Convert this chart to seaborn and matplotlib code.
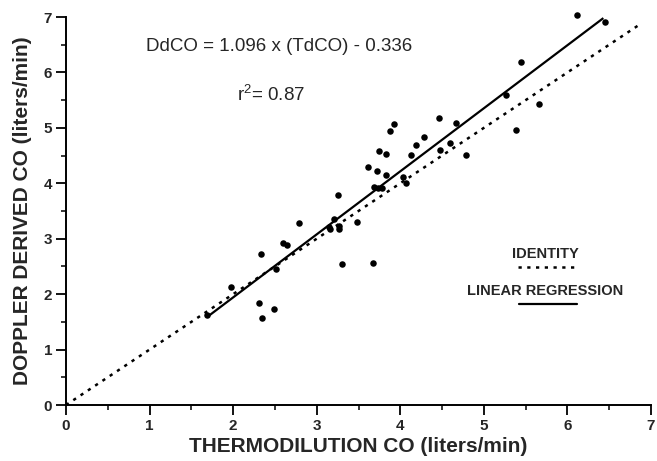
import matplotlib
matplotlib.use("Agg")
import matplotlib.pyplot as plt
import seaborn as sns
import pandas as pd
from matplotlib.ticker import MultipleLocator

# Data
td_co = [1.69, 1.97, 2.31, 2.34, 2.49, 2.33, 2.51, 2.60, 2.64, 2.79,
         3.15, 3.16, 3.27, 3.27, 3.21, 3.25, 3.48, 3.30, 3.67, 3.69,
         3.73, 3.78, 3.61, 3.72, 3.83, 4.03, 4.07, 3.74, 3.83, 4.13,
         3.88, 3.92, 4.28, 4.19, 4.46, 4.67, 4.47, 4.59, 4.79, 5.26,
         5.38, 5.66, 5.45, 6.12, 6.45]
dd_co = [1.62, 2.13, 1.84, 1.57, 1.73, 2.72, 2.45, 2.92, 2.89, 3.28,
         3.21, 3.17, 3.23, 3.17, 3.36, 3.79, 3.30, 2.55, 2.56, 3.94,
         3.92, 3.92, 4.30, 4.22, 4.15, 4.12, 4.01, 4.58, 4.53, 4.51,
         4.95, 5.07, 4.84, 4.69, 5.18, 5.09, 4.60, 4.73, 4.51, 5.60,
         4.96, 5.43, 6.19, 7.04, 6.91]

identity_x = [0.0, 6.85]
identity_y = [0.0, 6.85]
regression_x = [1.70, 6.43]
regression_y = [1.60, 6.98]

x_ticks = [0, 1, 2, 3, 4, 5, 6, 7]
y_ticks = [0, 1, 2, 3, 4, 5, 6, 7]

equation_text = "DdCO = 1.096 x (TdCO) - 0.336"
r2_text = r"r$^{2}$= 0.87"
x_label = "THERMODILUTION CO (liters/min)"
y_label = "DOPPLER DERIVED CO (liters/min)"
legend_identity = "IDENTITY"
legend_regression = "LINEAR REGRESSION"

sns.set_style("ticks")
plt.rcParams['font.family'] = ['Liberation Sans', 'DejaVu Sans']
plt.rcParams['mathtext.fontset'] = 'custom'
plt.rcParams['mathtext.rm'] = 'Liberation Sans'
plt.rcParams['mathtext.it'] = 'Liberation Sans'

df = pd.DataFrame({"td": td_co, "dd": dd_co})

fig = plt.figure(figsize=(6.57, 4.61), dpi=100)
ax = fig.add_axes([66/657, 56/461, 585/657, 388/461])

sns.scatterplot(data=df, x="td", y="dd", ax=ax, color="black", s=22,
                edgecolor="black", linewidth=0, zorder=3, clip_on=False)
ax.plot(identity_x, identity_y, color="black", lw=1.8,
        linestyle=(0, (1.3, 2.2)), clip_on=False, zorder=2)
ax.plot(regression_x, regression_y, color="black", lw=1.6,
        solid_capstyle="butt", clip_on=False, zorder=2)

ax.set_xlim(0, 7)
ax.set_ylim(0, 7)
ax.set_xticks(x_ticks)
ax.set_yticks(y_ticks)
ax.xaxis.set_minor_locator(MultipleLocator(0.5))
ax.yaxis.set_minor_locator(MultipleLocator(0.5))
ax.tick_params(axis="both", which="major", direction="out", length=7,
               width=1.3, color="black", labelsize=11, pad=3)
ax.tick_params(axis="both", which="minor", direction="out", length=3.5,
               width=1.1, color="black")
for lab in ax.get_xticklabels() + ax.get_yticklabels():
    lab.set_fontweight("bold")

for side in ["top", "right"]:
    ax.spines[side].set_visible(False)
for side in ["left", "bottom"]:
    ax.spines[side].set_linewidth(1.4)
    ax.spines[side].set_color("black")

ax.set_xlabel(x_label, fontsize=15, fontweight="bold", labelpad=3)
ax.set_ylabel(y_label, fontsize=15, fontweight="bold", labelpad=8)

ax.text(0.96, 6.46, equation_text, fontsize=13.5, ha="left", va="center")
ax.text(2.05, 5.60, r2_text, fontsize=13.5, ha="left", va="center")

ax.text(0.819, 0.389, legend_identity, transform=ax.transAxes, fontsize=10.5,
        fontweight="bold", ha="center", va="center")
ax.plot([0.773, 0.870], [0.356, 0.356], transform=ax.transAxes, color="black",
        lw=1.8, linestyle=(0, (1.3, 2.2)))
ax.text(0.819, 0.294, legend_regression, transform=ax.transAxes, fontsize=10.5,
        fontweight="bold", ha="center", va="center")
ax.plot([0.774, 0.874], [0.260, 0.260], transform=ax.transAxes, color="black",
        lw=1.6)

ax.set_facecolor("white")
fig.patch.set_facecolor("white")
fig.savefig("out.png", dpi=100, facecolor="white")
